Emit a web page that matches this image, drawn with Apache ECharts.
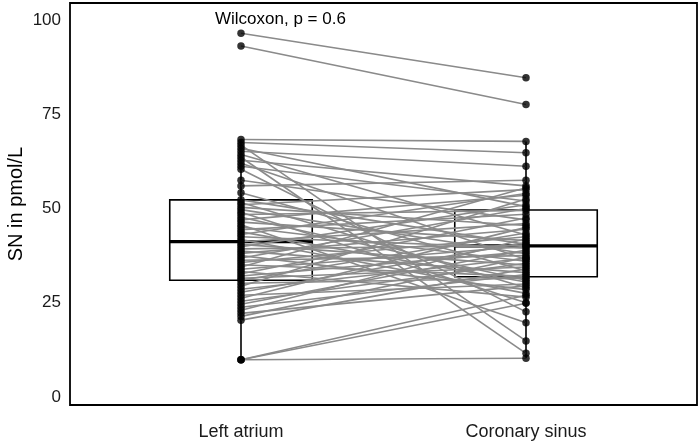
<!DOCTYPE html>
<html><head><meta charset="utf-8">
<script src="https://cdn.jsdelivr.net/npm/echarts@6/dist/echarts.min.js"></script>
<style>html,body{margin:0;padding:0;background:#fff}#c{width:700px;height:443px}</style>
</head><body><div id="c"></div>
<script>
var categories = ['Left atrium', 'Coronary sinus'];
var yTicks = [0, 25, 50, 75, 100];
// paired observations (same index = same patient)
var leftAtrium = [96.5, 93.1, 68.3, 67.5, 66.8, 66.0, 65.2, 64.3, 63.6, 62.8, 62.0, 61.2, 60.4,
  57.5, 56.0, 54.2, 52.3, 51.6, 51.0, 50.3, 49.7, 49.0, 48.4, 47.7, 47.0, 46.4, 45.7, 45.1, 44.4,
  43.8, 43.1, 42.5, 41.8, 41.2, 40.5, 39.9, 39.3, 38.7, 38.1, 37.5, 36.9, 36.3, 35.7, 35.1, 34.5,
  33.9, 33.3, 32.7, 32.1, 31.5, 31.0, 30.2, 29.4, 28.6, 27.8, 27.0, 26.2, 25.4, 24.6, 23.8, 23.0,
  22.2, 21.4, 20.4, 9.9, 9.9, 9.9];
var coronarySinus = [84.7, 77.6, 67.8, 64.8, 14.9, 50.5, 61.2, 43.0, 11.6, 56.0, 36.5, 52.0, 22.6,
  47.0, 57.5, 33.5, 40.5, 29.0, 55.0, 45.5, 38.0, 25.0, 49.5, 31.0, 53.5, 41.5, 19.7, 36.0, 48.5,
  30.5, 54.0, 39.5, 27.5, 46.0, 35.0, 51.0, 40.2, 33.0, 44.5, 28.5, 50.0, 37.5, 42.5, 32.0, 55.5,
  40.0, 26.5, 47.5, 38.5, 34.5, 43.5, 31.5, 52.5, 36.8, 41.0, 30.0, 45.0, 35.5, 39.0, 32.5, 42.0,
  29.5, 37.0, 34.0, 10.3, 24.9, 27.0];
// box statistics: [lower whisker, Q1, median, Q3, upper whisker]
var boxLeft = [9.9, 31.0, 41.2, 52.3, 68.3];
var boxRight = [10.3, 31.9, 40.1, 49.6, 67.8];
var testLabel = 'Wilcoxon, p = 0.6';

var FONT = "'Liberation Sans', Arial, sans-serif";
var chart = echarts.init(document.getElementById('c'), null, {renderer: 'canvas'});

var boxData = [[1].concat(boxLeft), [2].concat(boxRight)];
var lineData = leftAtrium.map(function (v, i) {
  return {coords: [[1, v], [2, coronarySinus[i]]]};
});
var pointData = leftAtrium.map(function (v) { return [1, v]; })
  .concat(coronarySinus.map(function (v) { return [2, v]; }));

chart.setOption({
  animation: false,
  backgroundColor: '#fff',
  grid: {left: 70, right: 3, top: 3, bottom: 38, containLabel: false, outerBoundsMode: 'none',
    show: true, borderColor: '#000', borderWidth: 1.8, backgroundColor: 'transparent'},
  xAxis: {
    type: 'value', min: 0.4, max: 2.6,
    axisLine: {show: false}, axisTick: {show: false}, splitLine: {show: false},
    axisLabel: {
      customValues: [1, 2], margin: 18,
      formatter: function (v) { return categories[Math.round(v) - 1]; },
      color: '#1a1a1a', fontSize: 18, fontFamily: FONT
    }
  },
  yAxis: {
    type: 'value', min: -2.1, max: 104.5,
    name: 'SN in pmol/L', nameLocation: 'middle', nameGap: 44, nameMoveOverlap: false,
    nameTextStyle: {fontSize: 20, color: '#000', fontFamily: FONT},
    axisLine: {show: false}, axisTick: {show: false}, splitLine: {show: false},
    axisLabel: {customValues: yTicks, margin: 9, color: '#1a1a1a', fontSize: 17, fontFamily: FONT}
  },
  series: [
    {
      type: 'custom', z: 1, silent: true,
      data: boxData,
      encode: {x: 0, y: [1, 2, 3, 4, 5]},
      renderItem: function (params, api) {
        var x = api.value(0);
        var half = 0.25;
        var pMin = api.coord([x, api.value(1)]);
        var pQ1 = api.coord([x, api.value(2)]);
        var pMed = api.coord([x, api.value(3)]);
        var pQ3 = api.coord([x, api.value(4)]);
        var pMax = api.coord([x, api.value(5)]);
        var xl = api.coord([x - half, 0])[0];
        var xr = api.coord([x + half, 0])[0];
        var st = {stroke: '#000', lineWidth: 1.6, fill: null};
        return {
          type: 'group',
          children: [
            {type: 'line', shape: {x1: pMax[0], y1: pMax[1], x2: pQ3[0], y2: pQ3[1]}, style: st},
            {type: 'line', shape: {x1: pMin[0], y1: pMin[1], x2: pQ1[0], y2: pQ1[1]}, style: st},
            {type: 'rect', shape: {x: xl, y: pQ3[1], width: xr - xl, height: pQ1[1] - pQ3[1]},
              style: {fill: '#fff', stroke: '#000', lineWidth: 1.6}},
            {type: 'line', shape: {x1: xl, y1: pMed[1], x2: xr, y2: pMed[1]},
              style: {stroke: '#000', lineWidth: 3.2}}
          ]
        };
      }
    },
    {
      type: 'lines', coordinateSystem: 'cartesian2d', z: 2, silent: true,
      data: lineData,
      lineStyle: {color: '#8a8a8a', width: 1.6, opacity: 1}
    },
    {
      type: 'scatter', z: 3, silent: true,
      data: pointData,
      symbol: 'circle', symbolSize: 7.5,
      itemStyle: {color: '#000'}
    }
  ],
  graphic: [{
    type: 'text', left: 215, top: 11,
    style: {text: testLabel, fontSize: 17, fill: '#000', fontFamily: FONT}
  }]
});
</script>
</body></html>
